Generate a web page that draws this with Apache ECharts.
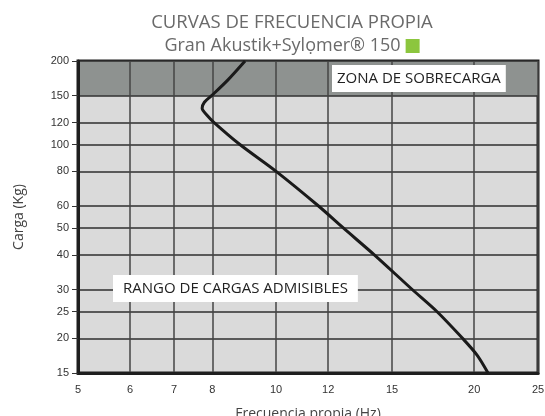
<!DOCTYPE html>
<html>
<head>
<meta charset="utf-8">
<script src="https://cdn.jsdelivr.net/npm/echarts@6/dist/echarts.min.js"></script>
<style>
  html, body { margin: 0; padding: 0; background: #fff; }
  #chart { width: 545px; height: 416px; }
</style>
</head>
<body>
<div id="chart"></div>
<script>
// curva de frecuencia propia (Hz) frente a carga (Kg)
var freqHz = [8.97, 8.45, 7.98, 7.78, 7.72, 7.84, 8.05, 8.81, 10.0, 11.6, 12.65, 14.1, 16.1, 17.55, 19.2, 20.2, 20.99];
var loadKg = [200, 171, 150, 142, 135, 128, 120, 100, 80, 60, 50, 40, 30, 25, 20, 17.4, 15];

var xTicks = [5, 6, 7, 8, 10, 12, 15, 20, 25];
var yTicks = [15, 20, 25, 30, 40, 50, 60, 80, 100, 120, 150, 200];
var overload = [150, 200];

var curve = freqHz.map(function (f, i) { return [f, loadKg[i]]; });

var myChart = echarts.init(document.getElementById('chart'));

var option = {
    animation: false,
    title: [{
        text: 'CURVAS DE FRECUENCIA PROPIA',
        left: 287,
        top: 8,
        textAlign: 'center',
        textStyle: { fontFamily: 'Open Sans', fontSize: 18.5, fontWeight: 'normal', color: '#6a6a6a' }
    }, {
        text: '{a|Gran Akustik+Sylọmer® 150} {b|}',
        left: 287,
        top: 32,
        textAlign: 'center',
        textStyle: {
            rich: {
                a: { fontFamily: 'Open Sans', fontSize: 18, fontWeight: 'normal', color: '#6a6a6a' },
                b: { width: 14, height: 14, backgroundColor: '#8cc63e' }
            }
        }
    }],
    grid: {
        left: 78, right: 7, top: 61, bottom: 43,
        outerBoundsMode: 'none',
        containLabel: false,
        show: true,
        backgroundColor: '#dadada',
        borderColor: '#1e1e1e',
        borderWidth: 3
    },
    xAxis: {
        type: 'log',
        logBase: 10,
        min: 5,
        max: 25,
        z: 3,
        name: 'Frecuencia propia (Hz)',
        nameLocation: 'middle',
        nameGap: 34,
        nameTextStyle: { fontFamily: 'Open Sans', fontSize: 14, color: '#444' },
        axisLine: { show: true, lineStyle: { color: '#1e1e1e', width: 3 } },
        axisTick: { show: false, customValues: xTicks },
        axisLabel: { customValues: xTicks, fontFamily: 'Liberation Sans', fontSize: 11, color: '#333', margin: 11 },
        splitLine: { show: true, lineStyle: { color: '#444', width: 1.5 } }
    },
    yAxis: {
        type: 'log',
        logBase: 10,
        min: 15,
        max: 200,
        z: 3,
        name: 'Carga (Kg)',
        nameLocation: 'middle',
        nameGap: 52,
        nameTextStyle: { fontFamily: 'Open Sans', fontSize: 14, color: '#444' },
        axisLine: { show: true, lineStyle: { color: '#1e1e1e', width: 3 } },
        axisTick: { show: true, customValues: yTicks, length: 6, lineStyle: { color: '#333', width: 1 } },
        axisLabel: { customValues: yTicks, fontFamily: 'Liberation Sans', fontSize: 11, color: '#333', margin: 9 },
        splitLine: { show: true, lineStyle: { color: '#2e2e2e', width: 1.5 } }
    },
    series: [{
        type: 'line',
        z: 1,
        data: [],
        silent: true,
        markArea: {
            silent: true,
            itemStyle: { color: '#8e9290' },
            data: [[{ yAxis: overload[0] }, { yAxis: overload[1] }]]
        }
    }, {
        type: 'line',
        z: 5,
        data: curve,
        smooth: 0.3,
        symbol: 'none',
        lineStyle: { color: '#1a1a1a', width: 3 }
    }],
    graphic: [{
        type: 'text',
        z: 10,
        left: 332,
        top: 65,
        style: {
            text: 'ZONA DE SOBRECARGA',
            fontFamily: 'Open Sans', fontSize: 15, fill: '#222',
            backgroundColor: '#fff', padding: [6, 5, 6, 5]
        }
    }, {
        type: 'text',
        z: 10,
        left: 113,
        top: 275,
        style: {
            text: 'RANGO DE CARGAS ADMISIBLES',
            fontFamily: 'Open Sans', fontSize: 15, fill: '#222',
            backgroundColor: '#fff', padding: [6, 10, 6, 10]
        }
    }]
};

myChart.setOption(option);
</script>
</body>
</html>
